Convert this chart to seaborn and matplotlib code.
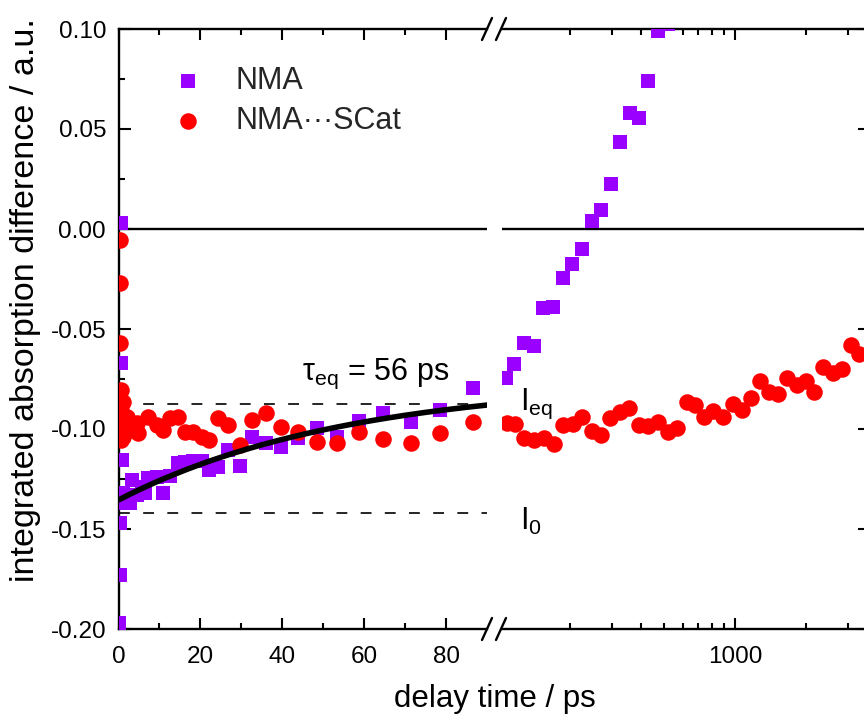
import numpy as np
import pandas as pd
import matplotlib
matplotlib.use("Agg")
import matplotlib.pyplot as plt
import seaborn as sns
from matplotlib.lines import Line2D
from matplotlib.ticker import MultipleLocator, LogLocator, NullFormatter, NullLocator, FuncFormatter

sns.set_theme(style="ticks")
plt.rcParams["font.family"] = ["Liberation Sans", "DejaVu Sans"]
plt.rcParams["mathtext.fontset"] = "custom"
plt.rcParams["mathtext.rm"] = "Liberation Sans"
plt.rcParams["mathtext.it"] = "Liberation Sans:italic"
plt.rcParams["mathtext.bf"] = "Liberation Sans:bold"
plt.rcParams["axes.unicode_minus"] = False

# ---- early delays (linear axis, ps) ----
nma_t_short = [0.2, 0.3, 0.4, 0.5, 0.55, 0.6, 0.85, 1.1, 1.6, 2.1, 2.8, 3.3, 4.5,
               5.7, 6.5, 7.2, 9.4, 10.9, 12.6, 14.5, 16.2, 18.2, 20.4, 22.1, 24.3,
               26.7, 29.6, 32.6, 36.0, 39.6, 43.8, 48.4, 53.3, 58.7, 64.5, 71.3,
               78.4, 86.5]
nma_v_short = [-0.197, -0.173, -0.147, 0.003, -0.067, -0.104, -0.1155, -0.132,
               -0.137, -0.1345, -0.137, -0.1255, -0.133, -0.129, -0.132, -0.1245,
               -0.124, -0.132, -0.1235, -0.117, -0.1165, -0.116, -0.116, -0.1205,
               -0.119, -0.1105, -0.1185, -0.104, -0.107, -0.109, -0.1045, -0.0995,
               -0.104, -0.096, -0.092, -0.0965, -0.0905, -0.0795]

scat_t_short = [0.25, 0.35, 0.45, 0.6, 1.0, 0.5, 0.55, 0.65, 1.1, 2.1, 2.8, 4.5,
                4.8, 7.2, 9.4, 10.9, 12.6, 14.5, 16.2, 18.2, 20.4, 22.1, 24.3,
                26.7, 29.6, 32.6, 36.0, 39.6, 43.8, 48.4, 53.3, 58.7, 64.5, 71.3,
                78.4, 86.5]
scat_v_short = [-0.0055, -0.027, -0.057, -0.0805, -0.0865, -0.0905, -0.098,
                -0.1055, -0.104, -0.094, -0.1005, -0.097, -0.102, -0.094, -0.098,
                -0.1005, -0.0945, -0.094, -0.1015, -0.1015, -0.104, -0.1055,
                -0.0945, -0.098, -0.108, -0.0955, -0.092, -0.099, -0.1015,
                -0.1065, -0.107, -0.1015, -0.105, -0.107, -0.102, -0.0965]

# ---- late delays (log axis, ps) ----
nma_t_long = [107, 116, 128, 141, 154, 169, 187, 204, 225, 248, 271, 298, 326,
              359, 392, 428, 472, 520]
nma_v_long = [-0.0745, -0.0675, -0.057, -0.0585, -0.0395, -0.039, -0.0245,
              -0.0175, -0.010, 0.004, 0.0095, 0.0225, 0.0435, 0.058, 0.0555,
              0.074, 0.099, 0.1025]

scat_t_long = [108, 117, 128, 141, 155, 171, 187, 206, 225, 248, 271, 295, 326,
               355, 392, 428, 472, 520, 568, 626, 677, 739, 807, 890, 981, 1071,
               1169, 1276, 1394, 1521, 1661, 1831, 1999, 2161, 2360, 2602, 2841,
               3101, 3353]
scat_v_long = [-0.097, -0.0975, -0.1045, -0.1055, -0.1045, -0.1075, -0.098,
               -0.0975, -0.094, -0.101, -0.103, -0.0945, -0.0915, -0.0895,
               -0.098, -0.0985, -0.0965, -0.1015, -0.0995, -0.0865, -0.088,
               -0.094, -0.091, -0.094, -0.0875, -0.0905, -0.0845, -0.076,
               -0.0815, -0.0825, -0.0745, -0.078, -0.076, -0.0815, -0.069,
               -0.072, -0.070, -0.058, -0.0625]

# mono-exponential equilibration fit and reference levels
tau_eq = 56.0
fit_inf = -0.0761
fit_amp = -0.0594
level_eq = -0.0877
level_0 = -0.1422

PURPLE = "#9900FF"
RED = "#FF0000"
SQ_SIZE = 9.4 ** 2
CI_SIZE = 11.9 ** 2

W, H = 864.0, 724.0
fig = plt.figure(figsize=(W / 100, H / 100), dpi=100)


def add_px_axes(x0, x1, ytop, ybot):
    return fig.add_axes([x0 / W, 1 - ybot / H, (x1 - x0) / W, (ybot - ytop) / H])


ax1 = add_px_axes(118.5, 487.0, 29.0, 629.0)
ax2 = add_px_axes(502.0, 866.0, 29.0, 629.0)
ax2.set_xscale("log")

for ax in (ax1, ax2):
    ax.axhline(0.0, color="black", lw=1.7, zorder=1)

ax1.axhline(level_eq, color="black", lw=1.2, dashes=(6.5, 8.0), zorder=1)
ax1.axhline(level_0, color="black", lw=1.2, dashes=(6.5, 8.0), zorder=1)

sns.scatterplot(x=nma_t_short, y=nma_v_short, ax=ax1, marker="s", s=SQ_SIZE,
                color=PURPLE, linewidth=0, label="NMA", zorder=3)
sns.scatterplot(x=scat_t_short, y=scat_v_short, ax=ax1, marker="o", s=CI_SIZE,
                color=RED, linewidth=0, label="NMA\u00b7\u00b7\u00b7SCat", zorder=4)
sns.scatterplot(x=nma_t_long, y=nma_v_long, ax=ax2, marker="s", s=SQ_SIZE,
                color=PURPLE, linewidth=0, zorder=3)
sns.scatterplot(x=scat_t_long, y=scat_v_long, ax=ax2, marker="o", s=CI_SIZE,
                color=RED, linewidth=0, zorder=4)

fit_t = np.linspace(0.0, 90.0, 300)
fit_v = fit_inf + fit_amp * np.exp(-fit_t / tau_eq)
sns.lineplot(x=fit_t, y=fit_v, ax=ax1, color="black", lw=4.0, zorder=5,
             estimator=None, sort=False)

# axis ranges
ax1.set_xlim(0.0, 89.9)
ax2.set_xlim(10 ** (3 + (502 - 735) / 236.0), 10 ** (3 + (866 - 735) / 236.0))
for ax in (ax1, ax2):
    ax.set_ylim(-0.20, 0.10)
    ax.set_xlabel("")
    ax.set_ylabel("")

# spines
for ax in (ax1, ax2):
    for s in ax.spines.values():
        s.set_linewidth(1.7)
        s.set_color("black")
ax1.spines["right"].set_visible(False)
ax2.spines["left"].set_visible(False)

# ticks, left panel
ax1.xaxis.set_major_locator(MultipleLocator(20))
ax1.xaxis.set_minor_locator(MultipleLocator(10))
ax1.yaxis.set_major_locator(MultipleLocator(0.05))
ax1.yaxis.set_minor_locator(MultipleLocator(0.025))


def yfmt(v, pos):
    if abs(v) < 1e-9:
        v = 0.0
    return f"{v:.2f}"


ax1.yaxis.set_major_formatter(FuncFormatter(yfmt))
ax1.tick_params(axis="both", which="both", direction="in", width=1.5,
                color="black", labelsize=17.5, labelcolor="black")
ax1.tick_params(axis="x", which="major", length=8.0, top=True, bottom=True, pad=12)
ax1.tick_params(axis="x", which="minor", length=4.3, top=True, bottom=True)
ax1.tick_params(axis="y", which="major", length=8.6, left=True, right=False, pad=9)
ax1.tick_params(axis="y", which="minor", length=4.3, left=True, right=False)

# ticks, right panel
ax2.xaxis.set_major_locator(LogLocator(base=10))
ax2.xaxis.set_minor_locator(LogLocator(base=10, subs=np.arange(2, 10)))
ax2.xaxis.set_major_formatter(FuncFormatter(lambda v, p: f"{v:.0f}"))
ax2.xaxis.set_minor_formatter(NullFormatter())
ax2.yaxis.set_major_locator(MultipleLocator(0.05))
ax2.yaxis.set_minor_locator(NullLocator())
ax2.tick_params(axis="both", which="both", direction="in", width=1.5,
                color="black", labelsize=17.5, labelcolor="black")
ax2.tick_params(axis="x", which="major", length=8.0, top=True, bottom=True, pad=12)
ax2.tick_params(axis="x", which="minor", length=4.3, top=True, bottom=True)
ax2.tick_params(axis="y", which="major", length=6.0, left=False, right=True,
                labelleft=False, labelright=False)

# legend
leg = ax1.legend(loc="upper left", bbox_to_anchor=(0.122, 0.939), frameon=False,
                 fontsize=22, handlelength=1.6, handletextpad=0.75,
                 labelspacing=0.33, borderpad=0, borderaxespad=0)

# annotations
ax1.text(44.8, -0.0755, r"τ$_{\mathrm{eq}}$ = 56 ps", fontsize=22,
         ha="left", va="baseline", color="black")
ax2.text(10 ** (3 + (520 - 735) / 236.0), -0.0905, r"I$_{\mathrm{eq}}$",
         fontsize=22, ha="left", va="baseline", color="black")
ax2.text(10 ** (3 + (520 - 735) / 236.0), -0.1505, r"I$_{\mathrm{0}}$",
         fontsize=22, ha="left", va="baseline", color="black")

# axis titles
fig.text(495 / W, 1 - 707 / H, "delay time / ps", fontsize=22.5,
         ha="center", va="baseline", color="black")
fig.text(26 / W, 1 - 300 / H, "integrated absorption difference / a.u.",
         fontsize=24.5, rotation=90, ha="center", va="center", color="black")

# axis-break marks
for yc in (29.0, 629.0):
    for xc in (487.0, 501.0):
        fig.add_artist(Line2D([(xc - 5) / W, (xc + 5) / W],
                              [1 - (yc + 11) / H, 1 - (yc - 11) / H],
                              transform=fig.transFigure, color="black", lw=1.7))

fig.savefig("out.png", dpi=100)
